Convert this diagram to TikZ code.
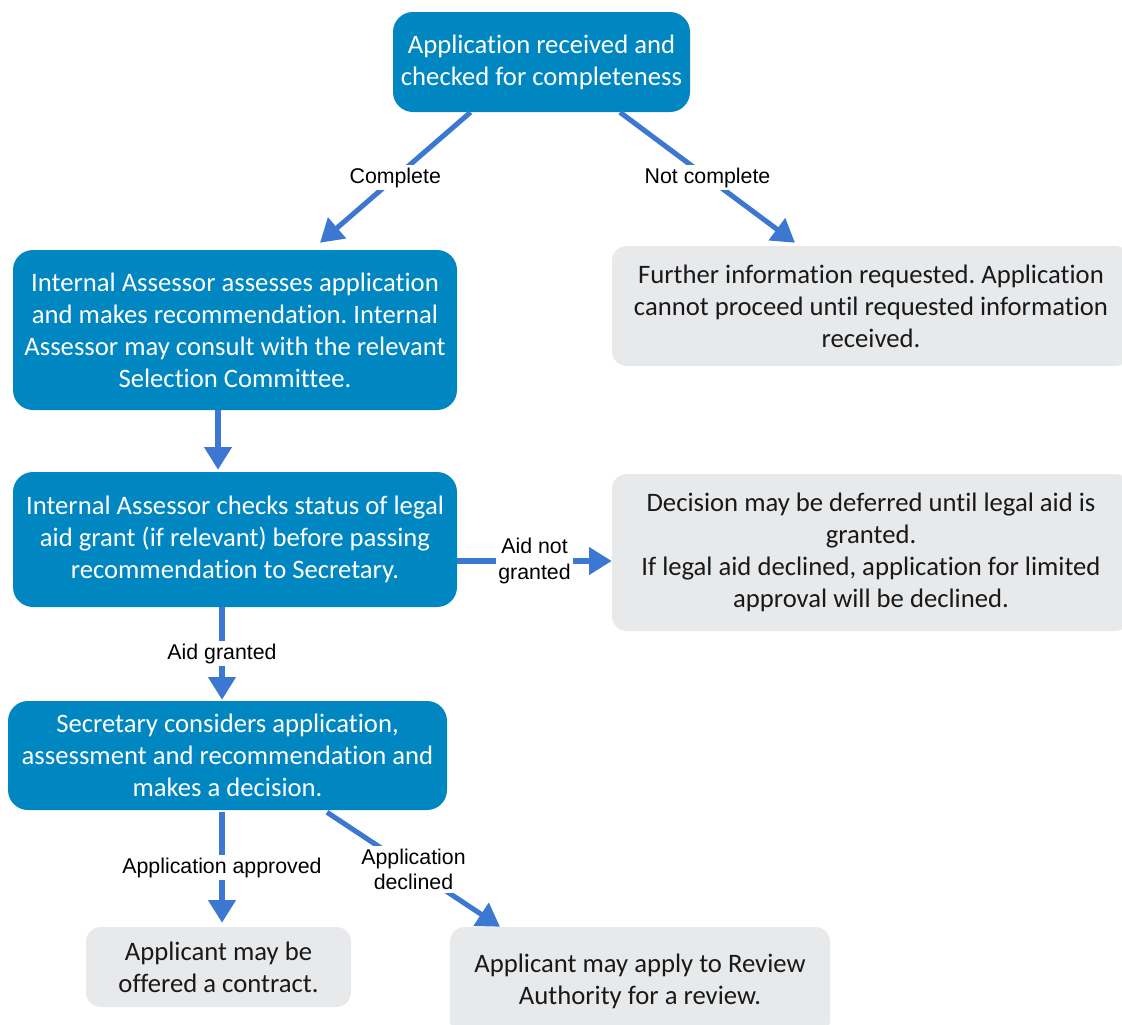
\documentclass[tikz,border=0pt]{standalone}
\usepackage{fontspec}
\setmainfont{Carlito}[Ligatures=NoCommon]
\newfontfamily\lblfont{Liberation Sans}
\usepackage{tikz}
\usetikzlibrary{arrows.meta, calc}
\definecolor{stepblue}{RGB}{0, 134, 192}
\definecolor{notegray}{RGB}{232, 233, 235}
\definecolor{flowblue}{RGB}{60, 120, 210}
\frenchspacing

\begin{document}
\begin{tikzpicture}[
  x=0.75pt, y=-0.75pt,
  >={Triangle[length=17pt, width=20pt]},
  bluebox/.style={
    rectangle, fill=stepblue, text=white,
    rounded corners=15pt, inner sep=0pt,
    font=\fontsize{20}{24}\selectfont, align=center
  },
  graybox/.style={
    rectangle, fill=notegray, text=black!90,
    rounded corners=11pt, inner sep=0pt,
    font=\fontsize{20}{24}\selectfont, align=center
  },
  flow/.style={->, draw=flowblue, line width=3.8pt},
  lbl/.style={fill=white, inner sep=2pt, align=center, text=black,
    font=\lblfont\fontsize{16}{19}\selectfont}
]
  \useasboundingbox (0,0) rectangle (1122,1025);

  \node[bluebox, minimum width=222.75pt, minimum height=75pt] (recv) at (541.5,62)
    {Application received and\\checked for completeness};
  \node[bluebox, minimum width=333pt, minimum height=120pt] (assess) at (235,330)
    {Internal Assessor assesses application\\and makes recommendation. Internal\\Assessor may consult with the relevant\\Selection Committee.};
  \node[graybox, minimum width=388.5pt, minimum height=90pt] (further) at (871,306)
    {Further information requested. Application\\cannot proceed until requested information\\received.};
  \node[bluebox, minimum width=333pt, minimum height=101.25pt] (check) at (235,539.5)
    {Internal Assessor checks status of legal\\aid grant (if relevant) before passing\\recommendation to Secretary.};
  \node[graybox, minimum width=388.5pt, minimum height=117.75pt] (deferred) at (871,552.5)
    {Decision may be deferred until legal aid is\\granted.\\If legal aid declined, application for limited\\approval will be declined.};
  \node[bluebox, minimum width=329.25pt, minimum height=81.75pt] (decide) at (227.5,755.5)
    {Secretary considers application,\\assessment and recommendation and\\makes a decision.};
  \node[graybox, minimum width=198.75pt, minimum height=60pt] (offer) at (218.5,967)
    {Applicant may be\\offered a contract.};
  \node[graybox, minimum width=285pt, minimum height=81pt] (review) at (640,981)
    {Applicant may apply to Review\\Authority for a review.};

  \draw[flow] ($(recv.south)+(-71,0)$) -- node[lbl] {Complete} ($(assess.north)+(85,-7)$);
  \draw[flow] ($(recv.south)+(78.5,0)$) -- node[lbl] {Not complete} ($(further.north)+(-76,-3)$);
  \draw[flow] ($(assess.south)+(-17,0)$) -- ($(check.north)+(-17,-2)$);
  \draw[flow] ($(check.east)+(0,21.5)$) -- node[lbl] {Aid not\\granted} ($(deferred.west)+(0,8.5)$);
  \draw[flow] ($(check.south)+(-13,0)$) -- node[lbl] {Aid granted} ($(decide.north)+(-5.5,-1)$);
  \draw[flow] ($(decide.south)+(-5.5,2)$) -- node[lbl] {Application approved} ($(offer.north)+(3.5,-4)$);
  \draw[flow] ($(decide.south)+(99.5,2)$) -- node[lbl] {Application\\declined} ($(review.north)+(-140,0)$);
\end{tikzpicture}
\end{document}
